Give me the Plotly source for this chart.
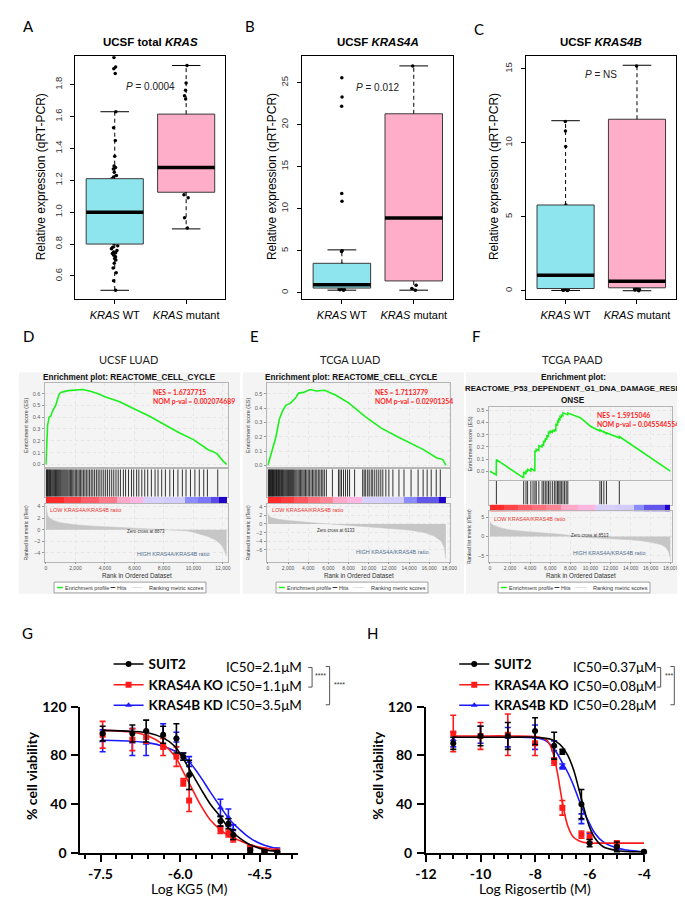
import plotly.graph_objects as go

W, H = 685, 900
ARIAL = "Liberation Sans, Arial, sans-serif"
LATO = "Lato, sans-serif"

# ======================= DATA =======================
group_labels = ["<i>KRAS</i> WT", "<i>KRAS</i> mutant"]

# Panel A - UCSF total KRAS
A_wt = [0.51, 0.57, 0.62, 0.65, 0.68, 0.70, 0.71, 0.72, 0.73, 0.74, 0.745, 0.75, 0.76, 0.77,
        0.78, 0.79, 0.80, 0.81, 0.82, 0.83, 0.84, 0.86, 0.88, 0.90, 0.91, 0.92, 0.94, 0.97,
        0.99, 1.00, 1.01, 1.03, 1.05, 1.07, 1.09, 1.10, 1.12, 1.14, 1.15, 1.17, 1.18, 1.19,
        1.20, 1.21, 1.22, 1.23, 1.25, 1.27, 1.28, 1.29, 1.35, 1.45, 1.53, 1.63, 1.87, 1.90,
        1.91, 1.97]
A_mut = [0.90, 0.965, 1.09, 1.11, 1.13, 1.15, 1.16, 1.20, 1.23, 1.26, 1.28, 1.29, 1.33, 1.36,
         1.42, 1.52, 1.71, 1.73, 1.765, 1.81, 1.92]
A_wt_stats = [0.51, 0.80, 1.00, 1.21, 1.63]      # lower whisker, Q1, median, Q3, upper whisker
A_mut_stats = [0.895, 1.125, 1.28, 1.615, 1.92]
A_yticks = [0.6, 0.8, 1.0, 1.2, 1.4, 1.6, 1.8]
A_p = "<i>P</i> = 0.0004"
A_p_y = 1.79

# Panel B - UCSF KRAS4A
B_wt = [0.3, 0.35, 0.4, 0.45, 0.5, 0.5, 0.55, 0.6, 0.6, 0.65, 0.7, 0.7, 0.75, 0.8, 0.85, 0.9,
        0.95, 1.0, 1.0, 1.1, 1.2, 1.3, 1.4, 1.5, 1.6, 1.8, 2.3, 2.5, 2.7, 3.0, 3.4, 4.9, 5.0,
        10.9, 11.8, 22.2, 23.3, 25.6]
B_mut = [0.3, 0.5, 0.9, 1.7, 2.9, 6.1, 7.7, 8.6, 8.9, 9.2, 9.8, 10.9, 13.4, 15.6, 27.0]
B_wt_stats = [0.3, 0.55, 0.95, 3.5, 5.1]
B_mut_stats = [0.3, 1.4, 8.9, 21.3, 27.0]
B_yticks = [0, 5, 10, 15, 20, 25]
B_p = "<i>P</i> = 0.012"
B_p_y = 24.4

# Panel C - UCSF KRAS4B
C_wt = [0.02, 0.03, 0.05, 0.05, 0.07, 0.08, 0.1, 0.1, 0.12, 0.15, 0.15, 0.18, 0.2, 0.25, 0.3,
        0.35, 0.45, 0.6, 0.75, 0.9, 1.0, 1.2, 1.5, 1.8, 1.95, 2.2, 2.45, 2.75, 3.05, 4.75, 5.05,
        5.1, 5.8, 9.75, 10.8, 11.45]
C_mut = [0.0, 0.05, 0.1, 0.15, 0.2, 0.25, 0.35, 0.45, 0.6, 2.1, 4.85, 6.95, 7.9, 15.2]
C_wt_stats = [0.02, 0.15, 1.05, 5.8, 11.5]
C_mut_stats = [0.0, 0.2, 0.65, 11.6, 15.25]
C_yticks = [0, 5, 10, 15]
C_p = "<i>P</i> = NS"
C_p_y = 14.6

# Panel D - GSEA UCSF LUAD
D_es_rank = [0, 50, 110, 220, 330, 440, 660, 880, 1000, 1500, 2000, 2500, 3000, 3500, 4000,
             5000, 6000, 7000, 8000, 9000, 10000, 10500, 11000, 11300, 11600, 12000, 12250]
D_es = [0.0, 0.2, 0.33, 0.40, 0.41, 0.45, 0.5, 0.59, 0.61, 0.625, 0.63, 0.634, 0.62, 0.6,
        0.573, 0.53, 0.47, 0.41, 0.34, 0.27, 0.21, 0.17, 0.124, 0.11, 0.09, 0.03, 0.0]
D_hits = [20, 60, 100, 150, 200, 250, 300, 350, 410, 470, 530, 590, 650, 710, 770, 830, 890,
          950, 1010, 1080, 1150, 1220, 1290, 1360, 1430, 1500, 1580, 1660, 1740, 1820, 1900,
          1990, 2080, 2170, 2260, 2350, 2440, 2540, 2640, 2740, 2850, 2960, 3070, 3180, 3300,
          3420, 3540, 3660, 3790, 3920, 4050, 4180, 4320, 4460, 4600, 4750, 4900, 5050, 5250,
          5400, 5600, 5800, 5950, 6150, 6300, 6500, 6700, 6900, 7150, 7400, 7600, 7850, 8100,
          8400, 8650, 8950, 9250, 9500, 9800, 10100, 10400, 10700, 10950, 11650]
D_bar_edges = [0, 1200, 2400, 3600, 4800, 5700, 6600, 8000, 9400, 10300, 11200, 11700, 12250]
D_bar_levels = [1.0, 0.85, 0.7, 0.55, 0.3, 0.2, -0.15, -0.2, -0.5, -0.6, -0.8, -1.0]
D_metric_rank = [0, 30, 100, 250, 500, 1000, 2000, 3000, 4000, 5000, 6000, 7000, 8000, 8873,
                 9500, 10000, 10500, 11000, 11500, 11800, 12000, 12150, 12250]
D_metric = [4.3, 3.2, 2.5, 2.0, 1.6, 1.2, 0.85, 0.65, 0.52, 0.42, 0.32, 0.22, 0.1, 0.0, -0.2,
            -0.45, -0.8, -1.2, -1.8, -2.4, -3.0, -3.8, -4.6]
D_xticks = [0, 2000, 4000, 6000, 8000, 10000, 12000]
D_es_ticks = [0.0, 0.1, 0.2, 0.3, 0.4, 0.5, 0.6]
D_rk_ticks = [-4, -2, 0, 2, 4]
D_nes = ["NES = 1.6737715", "NOM p-val = 0.002074689"]
D_zero = "Zero cross at 8873"

# Panel E - GSEA TCGA LUAD
E_es_rank = [0, 480, 800, 1125, 1450, 1770, 2250, 2730, 3050, 3540, 4180, 4820, 5630, 6750,
             8040, 9650, 11250, 12860, 14150, 15430, 16720, 17360, 17650]
E_es = [0.0, 0.13, 0.2, 0.32, 0.38, 0.42, 0.435, 0.47, 0.505, 0.51, 0.53, 0.52, 0.525, 0.49,
        0.435, 0.34, 0.26, 0.2, 0.157, 0.11, 0.053, 0.04, 0.0]
E_hits = [30, 90, 150, 210, 270, 330, 390, 450, 510, 570, 640, 710, 780, 850, 920, 990, 1060,
          1130, 1200, 1280, 1360, 1440, 1520, 1600, 1690, 1780, 1870, 1960, 2050, 2150, 2250,
          2350, 2450, 2550, 2660, 2770, 2880, 3000, 3120, 3240, 3360, 3480, 3600, 3730, 3860,
          4000, 4140, 4280, 4420, 4560, 4700, 4850, 5000, 5150, 5300, 5450, 5600, 5800, 6400,
          7000, 7150, 7300, 7500, 7700, 7900, 8100, 8600, 9400, 9550, 9700, 9900, 10050, 10250,
          10400, 10600, 10800, 11000, 11200, 11400, 11700, 12000, 12400, 13000, 13500, 14200,
          14900, 15400, 15800, 16200, 16700, 17100]
E_bar_edges = [0, 1300, 2600, 4000, 5200, 6400, 7800, 9300, 11400, 13500, 14800, 17000, 17650]
E_bar_levels = [1.0, 0.9, 0.75, 0.6, 0.5, 0.3, 0.2, -0.15, -0.2, -0.5, -0.75, -1.0]
E_metric_rank = [0, 50, 300, 1000, 2000, 3000, 4000, 5000, 6133, 7000, 8000, 10000, 12000,
                 14000, 15500, 16500, 17200, 17500, 17650]
E_metric = [2.5, 2.0, 1.5, 1.1, 0.8, 0.55, 0.35, 0.18, 0.0, -0.15, -0.3, -0.6, -0.95, -1.4,
            -2.0, -2.8, -4.0, -5.5, -8.0]
E_xticks = [0, 2000, 4000, 6000, 8000, 10000, 12000, 14000, 16000, 18000]
E_es_ticks = [0.0, 0.1, 0.2, 0.3, 0.4, 0.5]
E_rk_ticks = [-6, -4, -2, 0, 2, 4]
E_nes = ["NES = 1.7113779", "NOM p-val = 0.02901354"]
E_zero = "Zero cross at 6133"

# Panel F - GSEA TCGA PAAD
F_es_rank = [0, 630, 640, 3350, 3360, 3580, 3590, 3740, 3750, 4060, 4070, 4470, 4480, 4600,
             4610, 4860, 4870, 5180, 5190, 5340, 5350, 5500, 5510, 5660, 5670, 5820, 5830, 5980,
             5990, 6200, 6210, 6400, 6410, 6560, 6570, 6720, 6730, 6840, 6850, 6970, 6980, 7100,
             7110, 7260, 7270, 7590, 7600, 7740, 7750, 9000, 10000, 10940, 10950, 11100, 11110,
             11330, 11340, 11590, 11600, 12870, 12880, 17950]
F_es = [0.0, -0.03, 0.095, -0.055, -0.005, -0.025, 0.005, -0.005, 0.015, 0.0, 0.025, 0.0, 0.17,
        0.16, 0.18, 0.17, 0.21, 0.2, 0.22, 0.21, 0.25, 0.24, 0.27, 0.26, 0.29, 0.285, 0.32,
        0.315, 0.33, 0.32, 0.335, 0.33, 0.34, 0.335, 0.385, 0.38, 0.41, 0.405, 0.43, 0.425,
        0.45, 0.445, 0.46, 0.455, 0.48, 0.465, 0.47, 0.465, 0.478, 0.44, 0.37, 0.33, 0.34, 0.33,
        0.335, 0.32, 0.325, 0.31, 0.315, 0.275, 0.285, 0.0]
F_hits = [640, 3360, 3590, 3750, 4070, 4290, 4480, 4610, 4870, 5190, 5350, 5510, 5670, 5830,
          5990, 6210, 6410, 6570, 6730, 6850, 6980, 7110, 7270, 7430, 7590, 7750, 10950, 11110,
          11340, 11600, 12880]
F_bar_edges = [0, 1400, 2800, 4200, 5600, 7100, 8800, 10500, 12400, 14300, 15300, 17400, 17950]
F_bar_levels = [1.0, 0.85, 0.7, 0.6, 0.5, 0.3, 0.2, -0.15, -0.2, -0.5, -0.75, -1.0]
F_metric_rank = [0, 50, 300, 1000, 2000, 3000, 4000, 5000, 6000, 7000, 8000, 8513, 9000, 10000,
                 11000, 12000, 13000, 14000, 15000, 16000, 17000, 17500, 17800, 17950]
F_metric = [4.0, 3.6, 3.0, 2.3, 1.7, 1.4, 1.2, 1.0, 0.85, 0.6, 0.25, 0.0, -0.15, -0.3, -0.4,
            -0.5, -0.65, -0.85, -1.1, -1.5, -2.1, -2.8, -4.0, -5.8]
F_xticks = [0, 2000, 4000, 6000, 8000, 10000, 12000, 14000, 16000, 18000]
F_es_ticks = [0.0, 0.1, 0.2, 0.3, 0.4, 0.5]
F_rk_ticks = [-5, 0, 5]
F_nes = ["NES = 1.5915046", "NOM p-val = 0.045544554"]
F_zero = "Zero cross at 8513"

# Panel G - KG5 dose response
G_dose = [-7.46, -6.90, -6.64, -6.32, -6.07, -5.94, -5.83, -5.24, -5.09, -5.00, -4.68, -4.41, -4.17]
G_suit2 = [98, 98, 100, 97, 94, 79, 64, 26, 24, 15, 2, 1, 0.5]
G_suit2_err = [6, 7, 9, 7, 12, 3, 12, 4, 4, 4, 2, 1, 1]
G_4a = [97, 93, 95, 87, 79, 58, 43, 19, 16, 12, 4, 2, 1]
G_4a_err = [11, 9, 5, 7, 8, 3, 9, 3, 3, 3, 2, 1, 2]
G_4b = [92, 91, 90, 97, 95, 79, 75, 37, 29, 19, 4, 0, 2]
G_4b_err = [9, 11, 10, 9, 4, 3, 4, 7, 7, 4, 2, 2, 2]
G_fit_x = [-7.46, -6.90, -6.59, -6.32, -6.10, -5.95, -5.79, -5.61, -5.43, -5.24, -5.06, -4.87,
           -4.68, -4.41, -4.17]
G_fit_suit2 = [100.6, 99.8, 98.4, 94.4, 87.6, 78, 66, 52.6, 40, 29.7, 19, 12, 6.7, 2.7, 1.3]
G_fit_4a = [100.6, 99, 95.7, 89, 79.6, 67.4, 54, 39, 27, 18.9, 13.5, 10, 6.7, 4, 2.7]
G_fit_4b = [92.5, 91.7, 90.3, 87.6, 83.6, 79.6, 72.8, 62, 49.9, 37.8, 27, 18.9, 12.1, 6.2, 3.5]
G_ic50 = ["IC50=2.1\u03bcM", "IC50=1.1\u03bcM", "IC50=3.5\u03bcM"]

# Panel H - Rigosertib dose response
H_dose = [-11, -10, -9, -8, -7.3, -7, -6.3, -6, -5, -4]
H_suit2 = [90, 96, 96, 100, 88, 83, 40, 8, 5, 1]
H_suit2_err = [5, 8, 11, 11, 11, 2, 12, 3, 4, 1]
H_4a = [98, 96, 97, 90, 75, 37, 15, 13, 7, None]
H_4a_err = [15, 11, 17, 10, 3, 6, 3, 4, 3, 0]
H_4b = [93, 97, 95, 95, 88, 71, 28, 12, 5, 1]
H_4b_err = [6, 7, 8, 10, 4, 2, 4, 4, 2, 1]
H_fit_x = [-11, -10, -9, -8, -7.6, -7.4, -7.2, -7.0, -6.8, -6.6, -6.4, -6.2, -6.0, -5.8, -5.5,
           -5.0, -4.5, -4]
H_fit_suit2 = [95, 95, 95, 95, 94, 93, 91, 87, 80, 69, 53, 36, 21, 12, 5, 2, 1, 1]
H_fit_4a = [96, 96, 96, 95.5, 93, 86, 68, 42, 22, 13, 10, 8.5, 8, 8, 8, 8, 8, 8]
H_fit_4b = [95, 95, 95, 94.5, 92, 88, 82, 74, 66, 56, 44, 33, 24, 16, 9, 4, 2, 1]
H_ic50 = ["IC50=0.37\u03bcM", "IC50=0.08\u03bcM", "IC50=0.28\u03bcM"]

series_names = ["SUIT2", "KRAS4A KO", "KRAS4B KD"]

# ======================= HELPERS =======================
def fx(p):
    return p / W


def fy(p):
    return 1 - p / H


def dom_x(a, b):
    return [fx(a), fx(b)]


def dom_y(top, bottom):
    return [fy(bottom), fy(top)]


fig = go.Figure()
layout = dict(width=W, height=H, margin=dict(l=0, r=0, t=0, b=0), autosize=False,
              paper_bgcolor="white", plot_bgcolor="white", showlegend=True,
              shapes=[], annotations=[])
ann = layout["annotations"]
shp = layout["shapes"]
axis_n = [0]


def new_axes(xdom, ydom, xopt, yopt):
    axis_n[0] += 1
    n = axis_n[0]
    s = "" if n == 1 else str(n)
    layout["xaxis" + s] = dict(domain=xdom, anchor="y" + s, **xopt)
    layout["yaxis" + s] = dict(domain=ydom, anchor="x" + s, **yopt)
    return "x" + s, "y" + s


def text(x, y, s, size, color="black", family=ARIAL, weight="normal", xanchor="center",
         yanchor="middle", angle=0):
    ann.append(dict(x=fx(x), y=fy(y), xref="paper", yref="paper", text=s, showarrow=False,
                    font=dict(size=size, color=color, family=family, weight=weight),
                    xanchor=xanchor, yanchor=yanchor, textangle=angle, borderpad=0))


def line(x0, y0, x1, y1, color="black", width=1, dash="solid"):
    shp.append(dict(type="line", xref="paper", yref="paper", x0=fx(x0), y0=fy(y0), x1=fx(x1),
                    y1=fy(y1), line=dict(color=color, width=width, dash=dash)))


def rect(x0, y0, x1, y1, fill, lc="rgba(0,0,0,0)", lw=0, layer="below"):
    shp.append(dict(type="rect", xref="paper", yref="paper", x0=fx(x0), y0=fy(y1), x1=fx(x1),
                    y1=fy(y0), fillcolor=fill, line=dict(color=lc, width=lw), layer=layer))


def sc(**kw):
    kw.setdefault("showlegend", False)
    kw.setdefault("hoverinfo", "skip")
    fig.add_trace(go.Scatter(**kw))


# ======================= PANELS A-C =======================
CYAN = "#8EE5EE"
PINK = "#FFAEC9"

box_specs = [
    dict(label="A", lx=3, ly=9, title="UCSF total <i>KRAS</i>", wt=A_wt, mut=A_mut,
         swt=A_wt_stats, smut=A_mut_stats, yrange=[0.458, 1.978], yticks=A_yticks, fmt=".1f",
         p=A_p, py=A_p_y, box=(58, 212), ytx=22),
    dict(label="B", lx=231, ly=9, title="UCSF <i>KRAS4A</i>", wt=B_wt, mut=B_mut,
         swt=B_wt_stats, smut=B_mut_stats, yrange=[-0.70, 28.15], yticks=B_yticks, fmt="d",
         p=B_p, py=B_p_y, box=(291, 446), ytx=260),
    dict(label="C", lx=466, ly=12, title="UCSF <i>KRAS4B</i>", wt=C_wt, mut=C_mut,
         swt=C_wt_stats, smut=C_mut_stats, yrange=[-0.53, 15.86], yticks=C_yticks, fmt="d",
         p=C_p, py=C_p_y, box=(521, 675), ytx=488),
]

for b in box_specs:
    x0, x1 = b["box"]
    xa, ya = new_axes(
        dom_x(x0, x1), dom_y(40, 287),
        dict(range=[-0.55, 1.55], tickvals=[0, 1], ticktext=group_labels, ticks="outside",
             ticklen=4, tickcolor="black", showline=True, mirror=True, linecolor="black",
             linewidth=1.3, showgrid=False, zeroline=False, ticklabelstandoff=2,
             tickfont=dict(family=ARIAL, size=11, color="black")),
        dict(range=b["yrange"], tickvals=b["yticks"], tickformat=b["fmt"], tickangle=-90,
             ticks="outside", ticklen=4, tickcolor="black", ticklabelstandoff=5,
             showline=True, mirror=True, linecolor="black", linewidth=1.3, showgrid=False,
             zeroline=False, tickfont=dict(family=ARIAL, size=9.5, color="#333")))
    for c, vals, st, color in [(0, b["wt"], b["swt"], CYAN), (1, b["mut"], b["smut"], PINK)]:
        lo, q1, med, q3, hi = st
        hw = 0.4
        sc(x=[c - hw, c + hw, c + hw, c - hw, c - hw], y=[q1, q1, q3, q3, q1], mode="lines",
           fill="toself", fillcolor=color, line=dict(color="#3a3a3a", width=1),
           xaxis=xa, yaxis=ya)
        sc(x=[c, c, None, c, c], y=[q3, hi, None, q1, lo], mode="lines",
           line=dict(color="black", width=1, dash="4px,3px"), xaxis=xa, yaxis=ya)
        sc(x=[c - hw / 2, c + hw / 2, None, c - hw / 2, c + hw / 2], y=[hi, hi, None, lo, lo],
           mode="lines", line=dict(color="black", width=1), xaxis=xa, yaxis=ya)
        sc(x=[c - hw, c + hw], y=[med, med], mode="lines", line=dict(color="black", width=3.5),
           xaxis=xa, yaxis=ya)
        fig.add_trace(go.Box(x=[c] * len(vals), y=vals, boxpoints="all", jitter=0.12,
                             pointpos=0, width=0.8, fillcolor="rgba(0,0,0,0)",
                             line=dict(color="rgba(0,0,0,0)", width=0),
                             marker=dict(color="black", size=3.5), xaxis=xa, yaxis=ya,
                             showlegend=False, hoverinfo="skip"))
    ann.append(dict(x=0.5, y=b["py"], xref=xa, yref=ya, text=b["p"], showarrow=False,
                    font=dict(family=ARIAL, size=10, color="#222")))
    text(b["lx"], b["ly"], b["label"], 15, family=LATO, xanchor="left")
    text((x0 + x1) / 2, 25, b["title"], 11.5, weight="bold")
    text(b["ytx"], 163, "Relative expression (qRT-PCR)", 12, angle=-90)

# ======================= PANELS D-F (GSEA) =======================
BAR_CS = [[0.0, "#2000c8"], [0.1, "#5a4ae6"], [0.25, "#8a8cff"], [0.4, "#d2ccff"],
          [0.5, "#eadcff"], [0.6, "#ffb6e0"], [0.7, "#ff9aae"], [0.8, "#ff6f7c"],
          [1.0, "#ff2a2a"]]

gsea_specs = [
    dict(ox=0, label="D", dataset="UCSF LUAD",
         titles=[("Enrichment plot: REACTOME_CELL_CYCLE", 367, 8.2)],
         es_rank=D_es_rank, es=D_es, hits=D_hits, bar_edges=D_bar_edges, bar_levels=D_bar_levels,
         mrank=D_metric_rank, metric=D_metric, xr=[-45, 12370], xticks=D_xticks,
         es_range=[-0.025, 0.69], es_ticks=D_es_ticks, rk_range=[-5.5, 4.5], rk_ticks=D_rk_ticks,
         es_y=(373, 459), hit_y=(461, 489), bar_y=(489, 496), rk_y=(496, 555),
         nes=D_nes, nes_y=(382, 391), zero=D_zero, zero_x=130, zero_y=524, low_y=503,
         high_x=158, high_y=547),
    dict(ox=228, label="E", dataset="TCGA LUAD",
         titles=[("Enrichment plot: REACTOME_CELL_CYCLE", 367, 8.2)],
         es_rank=E_es_rank, es=E_es, hits=E_hits, bar_edges=E_bar_edges, bar_levels=E_bar_levels,
         mrank=E_metric_rank, metric=E_metric, xr=[-60, 18100], xticks=E_xticks,
         es_range=[-0.014, 0.576], es_ticks=E_es_ticks, rk_range=[-8.7, 4.7], rk_ticks=E_rk_ticks,
         es_y=(373, 459), hit_y=(461, 489), bar_y=(489, 496), rk_y=(496, 555),
         nes=E_nes, nes_y=(382, 391), zero=E_zero, zero_x=98, zero_y=523, low_y=503,
         high_x=155, high_y=545),
    dict(ox=456, label="F", dataset="TCGA PAAD",
         titles=[("Enrichment plot:", 367, 8.2),
                 ("REACTOME_P53_DEPENDENT_G1_DNA_DAMAGE_RESP", 379, 7.8),
                 ("ONSE", 391, 8.2)],
         es_rank=F_es_rank, es=F_es, hits=F_hits, bar_edges=F_bar_edges, bar_levels=F_bar_levels,
         mrank=F_metric_rank, metric=F_metric, xr=[-64, 18160], xticks=F_xticks,
         es_range=[-0.073, 0.524], es_ticks=F_es_ticks, rk_range=[-6.5, 6.5], rk_ticks=F_rk_ticks,
         es_y=(398, 472), hit_y=(473, 497), bar_y=(497, 504), rk_y=(504, 555),
         nes=F_nes, nes_y=(406, 415), zero=F_zero, zero_x=130, zero_y=528, low_y=512,
         high_x=150, high_y=546),
]

bg_spans = [(0, 227), (230, 457), (459, 685)]
label_pos = [(3, 325), (236, 325), (464, 325)]

for i, g in enumerate(gsea_specs):
    ox = g["ox"]
    X = dom_x(ox + 27, ox + 215)
    frame = dict(showline=True, mirror=True, linecolor="#b5b5b5", linewidth=0.8)
    grid = dict(showgrid=True, gridcolor="#e6e6e6", griddash="dot", gridwidth=0.6)
    rect(bg_spans[i][0], 362, bg_spans[i][1], 588, "#f4f4f4")

    # enrichment score
    xa, ya = new_axes(
        X, dom_y(*g["es_y"]),
        dict(range=g["xr"], tickvals=g["xticks"], showticklabels=False, ticks="",
             zeroline=False, **grid, **frame),
        dict(range=g["es_range"], tickvals=g["es_ticks"], tickformat=".1f", ticks="outside",
             ticklen=2, tickcolor="#999", ticklabelstandoff=1,
             tickfont=dict(size=5.5, color="#666", family=ARIAL), zeroline=False,
             **grid, **frame))
    sc(x=g["es_rank"], y=g["es"], mode="lines", line=dict(color="#1cf01c", width=1.6),
       xaxis=xa, yaxis=ya)

    # hits
    xa, ya = new_axes(
        X, dom_y(*g["hit_y"]),
        dict(range=g["xr"], showticklabels=False, ticks="", showgrid=False, zeroline=False, **frame),
        dict(range=[0, 1], showticklabels=False, ticks="", showgrid=False, zeroline=False, **frame))
    hx, hy = [], []
    for h in g["hits"]:
        hx += [h, h, None]
        hy += [0, 1, None]
    sc(x=hx, y=hy, mode="lines", line=dict(color="black", width=0.8), xaxis=xa, yaxis=ya)

    # colour bar
    xa, ya = new_axes(X, dom_y(*g["bar_y"]), dict(range=g["xr"], visible=False),
                      dict(range=[0, 1], visible=False))
    fig.add_trace(go.Heatmap(z=[g["bar_levels"]], x=g["bar_edges"], y=[0, 1],
                             colorscale=BAR_CS, zmin=-1, zmax=1, showscale=False,
                             xaxis=xa, yaxis=ya, hoverinfo="skip"))

    # ranked list metric
    xa, ya = new_axes(
        X, dom_y(*g["rk_y"]),
        dict(range=g["xr"], tickvals=g["xticks"], tickformat=",d", ticks="outside", ticklen=2,
             tickcolor="#999", ticklabelstandoff=0,
             tickfont=dict(size=5, color="#555", family=ARIAL), zeroline=False, **grid, **frame),
        dict(range=g["rk_range"], tickvals=g["rk_ticks"], tickformat="d", ticks="outside",
             ticklen=2, tickcolor="#999", ticklabelstandoff=1,
             tickfont=dict(size=5.5, color="#666", family=ARIAL), zeroline=False,
             **grid, **frame))
    sc(x=g["mrank"], y=g["metric"], mode="lines", fill="tozeroy", fillcolor="#c6c6c6",
       line=dict(color="#c6c6c6", width=0.5), xaxis=xa, yaxis=ya)

    # texts
    text(label_pos[i][0], label_pos[i][1], g["label"], 15, family=LATO, xanchor="left")
    text(ox + 112, 349, g["dataset"], 11, family=LATO, color="#222")
    for t, ty, fs in g["titles"]:
        text(ox + 113, ty, t, fs, weight="bold", color="#111")
    text(ox + 137, g["nes_y"][0], g["nes"][0], 6.8, color="#ff2020", family=LATO,
         weight="bold", xanchor="left")
    text(ox + 137, g["nes_y"][1], g["nes"][1], 6.8, color="#ff2020", family=LATO,
         weight="bold", xanchor="left")
    text(ox + 31, g["low_y"], "LOW KRAS4A/KRAS4B ratio", 5.5, color="#e8342f", xanchor="left")
    text(ox + g["zero_x"], g["zero_y"], g["zero"], 4.5, color="#333")
    text(ox + g["high_x"], g["high_y"], "HIGH KRAS4A/KRAS4B ratio", 5.5, color="#4f6f8f")
    es_mid = (g["es_y"][0] + g["es_y"][1]) / 2
    rk_mid = (g["rk_y"][0] + g["rk_y"][1]) / 2
    text(ox + 7, es_mid, "Enrichment score (ES)", 5.5, color="#444", angle=-90)
    text(ox + 7, rk_mid, "Ranked list metric (tTest)", 5, color="#444", angle=-90)
    text(ox + 121, 569.5, "Rank in Ordered Dataset", 6.3, color="#333")
    # GSEA legend box
    lx = ox + 36
    rect(lx, 576, lx + 156, 587, "white", lc="#888", lw=0.8, layer="above")
    line(lx + 3, 581.5, lx + 9, 581.5, color="#1cf01c", width=1.5)
    text(lx + 10, 581.5, "Enrichment profile", 5.5, color="#333", xanchor="left")
    line(lx + 58, 581.5, lx + 63, 581.5, color="black", width=0.8)
    text(lx + 64, 581.5, "Hits", 5.5, color="#333", xanchor="left")
    line(lx + 79, 581.5, lx + 91, 581.5, color="#d8d8d8", width=0.8)
    text(lx + 96, 581.5, "Ranking metric scores", 5.5, color="#333", xanchor="left")

# ======================= PANELS G-H =======================
COLORS = ["black", "#ff1a1a", "#1a1aff"]
SYMBOLS = ["circle", "square", "triangle-up"]


def dose_panel(xdom, xrange, xtickvals, xticktext, minor_dtick, minor_tick0, dose, means, errs,
               fit_x, fits, legend_name):
    xa, ya = new_axes(
        xdom, dom_y(703, 852),
        dict(range=xrange, tickmode="array", tickvals=xtickvals, ticktext=xticktext,
             ticks="outside", ticklen=7, tickwidth=2, tickcolor="black", showline=True,
             linecolor="black", linewidth=2, showgrid=False, zeroline=False,
             tickfont=dict(family=LATO, size=14, weight="bold", color="black"),
             minor=dict(tickmode="linear", tick0=minor_tick0, dtick=minor_dtick,
                        ticks="outside", ticklen=4, tickwidth=1.5, tickcolor="black",
                        showgrid=False)),
        dict(range=[0, 120], tickvals=[0, 40, 80, 120], ticks="outside", ticklen=7,
             tickwidth=2, tickcolor="black", showline=True, linecolor="black", linewidth=2,
             showgrid=False, zeroline=False, ticklabelstandoff=2,
             tickfont=dict(family=LATO, size=14, weight="bold", color="black")))
    # legend entries
    for k in range(3):
        fig.add_trace(go.Scatter(x=[None], y=[None], mode="lines+markers", name=series_names[k],
                                 line=dict(color=COLORS[k], width=1.5),
                                 marker=dict(color=COLORS[k], symbol=SYMBOLS[k], size=6),
                                 xaxis=xa, yaxis=ya, legend=legend_name, showlegend=True))
    # data: blue, red, black (black on top)
    for k in [2, 1, 0]:
        sc(x=fit_x, y=fits[k], mode="lines", line=dict(color=COLORS[k], width=1.6, shape="spline"),
           xaxis=xa, yaxis=ya, cliponaxis=False)
        sc(x=dose, y=means[k], mode="markers",
           marker=dict(color=COLORS[k], symbol=SYMBOLS[k], size=6),
           error_y=dict(type="data", array=errs[k], color=COLORS[k], thickness=1.6, width=3),
           xaxis=xa, yaxis=ya, cliponaxis=False)
    return xa, ya


dose_panel(dom_x(63, 287), [-7.88, -3.77], [-7.5, -6.0, -4.5], ["-7.5", "-6.0", "-4.5"], 0.3,
           -7.5, G_dose, [G_suit2, G_4a, G_4b], [G_suit2_err, G_4a_err, G_4b_err], G_fit_x,
           [G_fit_suit2, G_fit_4a, G_fit_4b], "legend")
dose_panel(dom_x(418, 642), [-12, -4], [-12, -10, -8, -6, -4], ["-12", "-10", "-8", "-6", "-4"],
           0.5, -12, H_dose, [H_suit2, H_4a, H_4b], [H_suit2_err, H_4a_err, H_4b_err], H_fit_x,
           [H_fit_suit2, H_fit_4a, H_fit_4b], "legend2")

leg_common = dict(xanchor="left", yanchor="top", bgcolor="rgba(0,0,0,0)", borderwidth=0,
                  font=dict(family=LATO, size=13.5, weight="bold", color="black"),
                  itemwidth=30, tracegroupgap=0, traceorder="normal")
layout["legend"] = dict(x=fx(92), y=fy(644), **leg_common)
layout["legend2"] = dict(x=fx(447), y=fy(644), **leg_common)

rows_y = [663, 682, 701]
for k in range(3):
    text(212, rows_y[k], G_ic50[k], 13.5, family=LATO, xanchor="left")
    text(568, rows_y[k], H_ic50[k], 13.5, family=LATO, xanchor="left")

# significance brackets
def bracket(x, y0, y1, tick=4):
    line(x - tick, y0, x, y0, color="#555", width=1)
    line(x, y0, x, y1, color="#555", width=1)
    line(x - tick, y1, x, y1, color="#555", width=1)


bracket(301, 663, 683)
text(303, 671, "****", 7, color="#333", xanchor="left")
bracket(319, 662, 701)
text(322, 680, "****", 7, color="#333", xanchor="left")
bracket(659, 663, 683)
text(662, 671, "***", 7, color="#333", xanchor="left")
bracket(673, 662, 701)
text(675, 682, "ns", 6, color="#555", xanchor="left")

text(2, 628, "G", 15, family=LATO, xanchor="left")
text(356, 628, "H", 15, family=LATO, xanchor="left")
text(13, 773, "% cell viability", 14, family=LATO, weight="bold", angle=-90)
text(368, 773, "% cell viability", 14, family=LATO, weight="bold", angle=-90)
text(175, 888, "Log KG5 (M)", 14, family=LATO)
text(530, 888, "Log Rigosertib (M)", 14, family=LATO)

fig.update_layout(**layout)
fig.write_html("out.html")
